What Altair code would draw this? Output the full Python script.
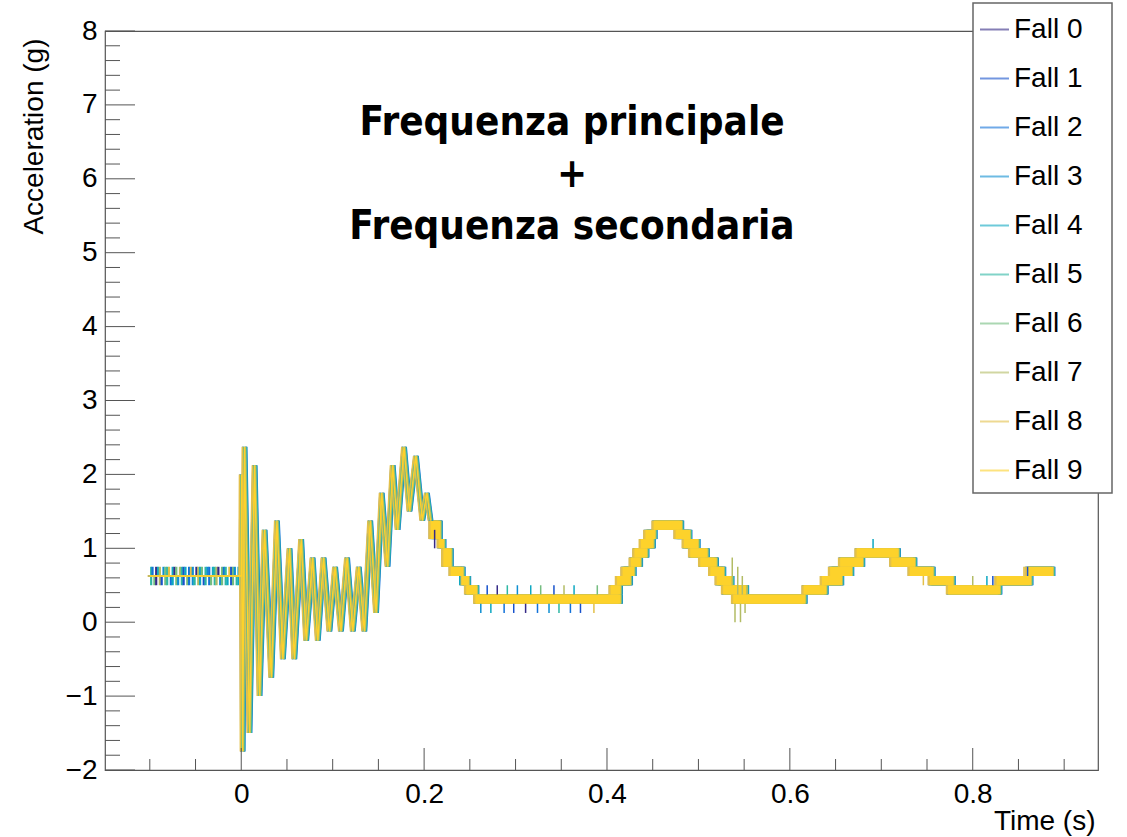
import altair as alt
import pandas as pd

# ---------------- data ----------------
fall_names = [f"Fall {i}" for i in range(10)]
fall_colors = ["#352A87", "#1752CC", "#1272D9", "#0E8FD1", "#0EA8C2",
               "#2EB7A4", "#75BD80", "#B3BC65", "#E3C04A", "#FDD22B"]
# small trigger offset of each fall (ms)
fall_shift_ms = [1.5, -2.0, 2.5, -1.0, 0.5, 2.0, -1.5, 1.0, -2.5, 0.0]

# transient (impact + secondary frequency) keypoints: time (s), acceleration (g)
wave_t = [-0.100, 0.000, 0.0005, 0.0015, 0.0036, 0.009, 0.0146, 0.020, 0.0255, 0.0328,
          0.039, 0.0455, 0.0528, 0.058, 0.0655, 0.071, 0.078, 0.0837, 0.090, 0.0964,
          0.1026, 0.109, 0.1157, 0.122, 0.1285, 0.1346, 0.141, 0.1474, 0.1536, 0.160,
          0.1656, 0.171, 0.178, 0.184, 0.191, 0.198, 0.203, 0.207]
wave_y = [0.625, 0.625, 2.0, -1.75, 2.375, -1.5, 2.125, -1.0, 1.25, -0.75,
          1.375, -0.5, 1.0, -0.5, 1.125, -0.25, 0.875, -0.25, 0.875, -0.125,
          0.75, -0.125, 0.875, -0.125, 0.75, -0.125, 1.375, 0.125, 1.75, 0.75,
          2.125, 1.25, 2.375, 1.5, 2.25, 1.375, 1.75, 1.375]

# quantised plateaus (signal toggling between two adjacent ADC levels)
band_start = [0.207, 0.216, 0.221, 0.229, 0.241, 0.246, 0.256,
              0.404, 0.411, 0.417, 0.426, 0.430, 0.437, 0.442, 0.451,
              0.475, 0.484, 0.491, 0.502, 0.513, 0.520, 0.527, 0.538,
              0.615, 0.635, 0.644, 0.655, 0.673,
              0.711, 0.731, 0.753, 0.773, 0.826, 0.859]
band_end = [0.218, 0.222, 0.230, 0.243, 0.249, 0.258, 0.415,
            0.415, 0.426, 0.430, 0.437, 0.444, 0.451, 0.453, 0.482,
            0.491, 0.500, 0.510, 0.520, 0.528, 0.537, 0.553, 0.617,
            0.640, 0.657, 0.668, 0.680, 0.719,
            0.737, 0.757, 0.779, 0.830, 0.864, 0.888]
band_low = [1.125, 1.0, 0.75, 0.625, 0.5, 0.375, 0.25,
            0.375, 0.5, 0.625, 0.75, 0.875, 1.0, 1.125, 1.25,
            1.125, 1.0, 0.875, 0.75, 0.625, 0.5, 0.375, 0.25,
            0.375, 0.5, 0.625, 0.75, 0.875,
            0.75, 0.625, 0.5, 0.375, 0.5, 0.625]
band_high = [1.375, 1.125, 1.0, 0.75, 0.625, 0.5, 0.375,
             0.5, 0.625, 0.75, 0.875, 1.0, 1.125, 1.25, 1.375,
             1.25, 1.125, 1.0, 0.875, 0.75, 0.625, 0.5, 0.375,
             0.5, 0.625, 0.75, 0.875, 1.0,
             0.875, 0.75, 0.625, 0.5, 0.625, 0.75]

# pre-trigger flicker (t < 0)
stripe_t = [-0.0985, -0.097, -0.095, -0.093, -0.091, -0.089, -0.087, -0.085, -0.083,
            -0.081, -0.079, -0.077, -0.075, -0.073, -0.071, -0.069, -0.067, -0.065,
            -0.063, -0.061, -0.059, -0.057, -0.055, -0.053, -0.051, -0.049, -0.047,
            -0.045, -0.043, -0.041, -0.039, -0.037, -0.035, -0.033, -0.031, -0.029,
            -0.027, -0.025, -0.023, -0.021, -0.019, -0.017, -0.015, -0.013, -0.011,
            -0.009, -0.007, -0.005, -0.003, -0.0015]
stripe_fall = [5, 2, 6, 0, 4, 7, 1, 3, 6, 5, 8, 2, 4, 0, 6, 3, 7, 5,
               1, 4, 6, 2, 8, 3, 5, 0, 7, 4, 6, 1, 5, 3, 2, 6, 4, 5,
               7, 0, 3, 6, 2, 5, 4, 8, 1, 6, 3, 5, 4, 7]
stripe_low = [0.5, 0.625, 0.5, 0.5, 0.625, 0.5, 0.5, 0.625, 0.5, 0.5,
              0.625, 0.5, 0.5, 0.625, 0.5, 0.5, 0.625, 0.5, 0.5, 0.625,
              0.5, 0.5, 0.625, 0.5, 0.5, 0.625, 0.5, 0.5, 0.625, 0.5,
              0.5, 0.625, 0.5, 0.5, 0.625, 0.5, 0.5, 0.625, 0.5, 0.5,
              0.625, 0.5, 0.5, 0.625, 0.5, 0.5, 0.625, 0.5, 0.5, 0.625]
stripe_high = [0.75, 0.75, 0.625, 0.75, 0.75, 0.75, 0.625, 0.75, 0.75, 0.75,
               0.75, 0.625, 0.75, 0.75, 0.75, 0.625, 0.75, 0.75, 0.75, 0.75,
               0.625, 0.75, 0.75, 0.75, 0.625, 0.75, 0.75, 0.75, 0.75, 0.625,
               0.75, 0.75, 0.75, 0.625, 0.75, 0.75, 0.75, 0.75, 0.625, 0.75,
               0.75, 0.75, 0.625, 0.75, 0.75, 0.75, 0.75, 0.625, 0.75, 0.75]

# isolated single-sample glitches
spike_t = [0.2115, 0.239, 0.262, 0.269, 0.273, 0.280, 0.2875, 0.291, 0.298, 0.302,
           0.311, 0.3166, 0.324, 0.3275, 0.3366, 0.342, 0.3475, 0.353, 0.360, 0.364,
           0.371, 0.3857, 0.3894, 0.537, 0.540, 0.543, 0.546, 0.548, 0.551, 0.553,
           0.691, 0.746, 0.800, 0.8155, 0.822, 0.856, 0.860]
spike_fall = [0, 4, 3, 1, 4, 0, 2, 5, 1, 3,
              0, 4, 2, 6, 3, 1, 5, 7, 2, 4,
              1, 8, 6, 7, 7, 7, 7, 7, 7, 7,
              4, 8, 7, 4, 1, 8, 1]
spike_low = [1.0, 0.5, 0.125, 0.375, 0.125, 0.375, 0.125, 0.375, 0.125, 0.375,
             0.125, 0.375, 0.125, 0.375, 0.125, 0.375, 0.125, 0.375, 0.125, 0.375,
             0.125, 0.125, 0.375, 0.5, 0.0, 0.375, 0.0, 0.375, 0.125, 0.375,
             1.0, 0.5, 0.5, 0.5, 0.5, 0.625, 0.625]
spike_high = [1.25, 0.625, 0.25, 0.5, 0.25, 0.5, 0.25, 0.5, 0.25, 0.5,
              0.25, 0.5, 0.25, 0.5, 0.25, 0.5, 0.25, 0.5, 0.25, 0.5,
              0.25, 0.25, 0.5, 0.875, 0.25, 0.75, 0.25, 0.625, 0.25, 0.5,
              1.125, 0.625, 0.625, 0.625, 0.625, 0.75, 0.75]

x_major = [0, 0.2, 0.4, 0.6, 0.8]
x_minor = [-0.1, -0.05, 0.05, 0.1, 0.15, 0.25, 0.3, 0.35, 0.45, 0.5, 0.55,
           0.65, 0.7, 0.75, 0.85, 0.9]
y_major = list(range(-2, 9))
y_minor = [round(-2 + 0.2 * k, 1) for k in range(51) if k % 5 != 0]

annot_lines = ["Frequenza principale", "+", "Frequenza secondaria"]

# ---------------- tables ----------------
line_rows, band_rows = [], []
for name, sh in zip(fall_names, fall_shift_ms):
    d = sh / 1000.0
    for k, (t, y) in enumerate(zip(wave_t, wave_y)):
        line_rows.append({"fall": name, "t": t + d, "acc": y, "k": k})
    for t0, t1, lo, hi in zip(band_start, band_end, band_low, band_high):
        band_rows.append({"fall": name, "t0": t0 + d, "t1": t1 + d, "lo": lo, "hi": hi})
lines_df = pd.DataFrame(line_rows)
bands_df = pd.DataFrame(band_rows)
stripes_df = pd.DataFrame({"t": stripe_t, "fall": [fall_names[i] for i in stripe_fall],
                           "lo": stripe_low, "hi": stripe_high})
spikes_df = pd.DataFrame({"t": spike_t, "fall": [fall_names[i] for i in spike_fall],
                          "lo": spike_low, "hi": spike_high})

# ---------------- styling ----------------
W, H = 993, 739
FONT = "Liberation Sans"
xscale = alt.Scale(domain=[-0.149, 0.937], nice=False, zero=False)
yscale = alt.Scale(domain=[-2, 8], nice=False, zero=False)
cscale = alt.Scale(domain=fall_names, range=fall_colors)

X_AXIS = alt.Axis(values=x_major, format="~g", ticks=False, domain=False, grid=False,
                  labelFont=FONT, labelFontSize=28, labelColor="black", labelPadding=32,
                  labelBaseline="alphabetic", labelFlush=False, labelOverlap=False,
                  title="Time (s)", titleFont=FONT, titleFontSize=28, titleFontWeight="normal",
                  titleColor="black", titleAnchor="end", titleAlign="right",
                  titleX=990, titleY=59, titleBaseline="alphabetic")
Y_AXIS = alt.Axis(values=y_major, format="d", ticks=False, domain=False, grid=False,
                  labelFont=FONT, labelFontSize=28, labelColor="black", labelPadding=8,
                  labelBaseline="middle", labelFlush=False, labelOverlap=False,
                  title="Acceleration (g)", titleFont=FONT, titleFontSize=28,
                  titleFontWeight="normal", titleColor="black", titleAngle=270,
                  titleAnchor="end", titleAlign="right", titleX=-63, titleY=7,
                  titleBaseline="alphabetic")

LEGEND = alt.Legend(orient="none", legendX=874, legendY=-17, title=None,
                    symbolType="stroke", symbolSize=841, symbolStrokeWidth=2,
                    symbolOpacity=0.6, labelFont=FONT, labelFontSize=28,
                    labelColor="black", labelOffset=4, rowPadding=19, padding=0,
                    labelLimit=300)
COLOR = alt.Color("fall:N", scale=cscale, legend=LEGEND)


def X(f):
    return alt.X(f, type="quantitative", scale=xscale, axis=X_AXIS)


def Y(f):
    return alt.Y(f, type="quantitative", scale=yscale, axis=Y_AXIS)


bands = alt.Chart(bands_df).mark_rect().encode(
    x=X("t0"), x2="t1", y=Y("lo"), y2="hi", color=COLOR)

stripes = alt.Chart(stripes_df).mark_rule(strokeWidth=2.2).encode(
    x=X("t"), y=Y("lo"), y2="hi", color=COLOR)

spikes = alt.Chart(spikes_df).mark_rule(strokeWidth=1.5).encode(
    x=X("t"), y=Y("lo"), y2="hi", color=COLOR)

lines = alt.Chart(lines_df).mark_line(strokeWidth=1.4).encode(
    x=X("t"), y=Y("acc"), order="k:Q", color=COLOR)

TICK = "#555555"
xmaj = alt.Chart(pd.DataFrame({"v": x_major})).mark_rule(color=TICK).encode(
    x=X("v"), y=alt.value(H), y2=alt.value(H - 22))
xmin = alt.Chart(pd.DataFrame({"v": x_minor})).mark_rule(color=TICK).encode(
    x=X("v"), y=alt.value(H), y2=alt.value(H - 11))
ymaj = alt.Chart(pd.DataFrame({"v": y_major})).mark_rule(color=TICK).encode(
    y=Y("v"), x=alt.value(0), x2=alt.value(30))
ymin = alt.Chart(pd.DataFrame({"v": y_minor})).mark_rule(color=TICK).encode(
    y=Y("v"), x=alt.value(0), x2=alt.value(15))

legend_box = alt.Chart(pd.DataFrame({"a": [0]})).mark_rect(
    fill="white", stroke="#666666", strokeWidth=1.5).encode(
    x=alt.value(868), x2=alt.value(1007), y=alt.value(-28), y2=alt.value(462))

annots = []
for txt, py in zip(annot_lines, [104, 156, 208]):
    annots.append(alt.Chart(pd.DataFrame({"s": [txt]})).mark_text(
        font="DejaVu Sans Condensed", fontWeight="bold", fontSize=40,
        align="center", baseline="alphabetic", color="black").encode(
        text="s:N", x=alt.value(467), y=alt.value(py)))

chart = alt.layer(bands, stripes, spikes, lines, xmaj, xmin, ymaj, ymin,
                  legend_box, *annots).properties(
    width=W, height=H,
    padding={"left": 105, "top": 31, "right": 29, "bottom": 67},
    autosize=alt.AutoSizeParams(type="none"),
    background="white",
).configure_view(stroke="#555555", strokeWidth=1.2)

chart.save("out.html", embed_options={"renderer": "svg", "actions": False})
